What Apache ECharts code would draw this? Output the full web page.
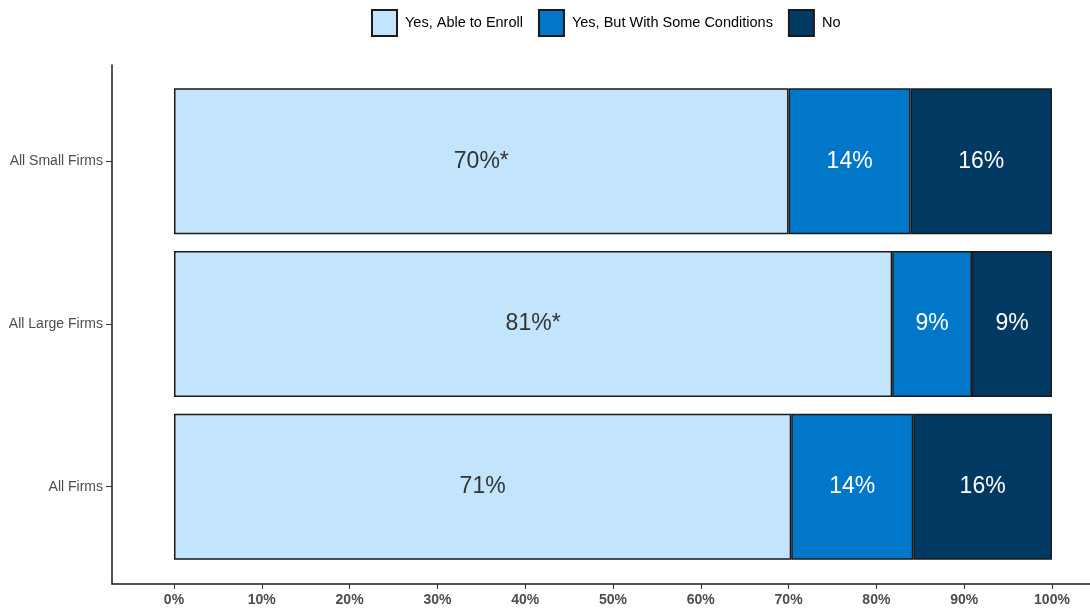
<!DOCTYPE html>
<html>
<head>
<meta charset="utf-8">
<script src="https://cdn.jsdelivr.net/npm/echarts@6/dist/echarts.min.js"></script>
<style>
  html, body { margin: 0; padding: 0; background: #fff; }
  #chart { width: 1090px; height: 608px; }
</style>
</head>
<body>
<div id="chart"></div>
<script>
// categories, bottom to top
const categories = ['All Firms', 'All Large Firms', 'All Small Firms'];
const seriesNames = ['Yes, Able to Enroll', 'Yes, But With Some Conditions', 'No'];

// segment shares (%)
const ableValues = [70.3, 81.8, 70.0];
const conditionValues = [13.9, 9.1, 13.9];
const noValues = [15.8, 9.1, 16.1];

// printed labels
const ableLabels = ['71%', '81%*', '70%*'];
const conditionLabels = ['14%', '9%', '14%'];
const noLabels = ['16%', '9%', '16%'];

const xTicks = [0, 10, 20, 30, 40, 50, 60, 70, 80, 90, 100];

const colors = ['#c2e4fc', '#0077c8', '#003a63'];
const xMin = -7.06;
const xMax = 104.33;

const chart = echarts.init(document.getElementById('chart'));

const makeSeries = (name, values, labels, color, labelColor) => ({
  name: name,
  type: 'bar',
  stack: 'total',
  xAxisIndex: 1,
  yAxisIndex: 1,
  barWidth: 146,
  data: values,
  itemStyle: {
    color: color,
    borderColor: '#1a1a1a',
    borderWidth: 1.5
  },
  label: {
    show: true,
    position: 'inside',
    formatter: p => labels[p.dataIndex],
    color: labelColor,
    fontSize: 23,
    fontFamily: 'Liberation Sans, Arial, sans-serif'
  }
});

const option = {
  animation: false,
  textStyle: { fontFamily: 'Liberation Sans, Arial, sans-serif' },
  legend: {
    top: 4,
    left: 366,
    itemWidth: 25,
    itemHeight: 26,
    itemGap: 15,
    icon: 'rect',
    textStyle: { fontSize: 14.5, color: '#000', padding: [0, 0, 0, 3] },
    data: seriesNames
  },
  grid: [
    // outer panel: carries the axis lines and x tick labels
    { left: 112, right: 0, top: 65, bottom: 24 },
    // bar area: category bands positioned like the reference
    { left: 112, right: 0, top: 80, bottom: 40 }
  ],
  xAxis: [
    {
      gridIndex: 0,
      type: 'value',
      min: xMin,
      max: xMax,
      splitLine: { show: false },
      axisLine: { show: true, onZero: false, lineStyle: { color: '#1a1a1a', width: 1.5 } },
      axisTick: { show: true, length: 5, lineStyle: { color: '#333' }, customValues: xTicks },
      axisLabel: {
        customValues: xTicks,
        formatter: v => v + '%',
        fontSize: 14,
        fontWeight: 'bold',
        color: '#4d4d4d',
        margin: 9
      }
    },
    {
      gridIndex: 1,
      type: 'value',
      min: xMin,
      max: xMax,
      show: false
    }
  ],
  yAxis: [
    {
      gridIndex: 0,
      type: 'value',
      min: 0,
      max: 1,
      splitLine: { show: false },
      axisLine: { show: true, onZero: false, lineStyle: { color: '#1a1a1a', width: 1.5 } },
      axisTick: { show: false },
      axisLabel: { show: false }
    },
    {
      gridIndex: 1,
      type: 'category',
      data: categories,
      axisLine: { show: false, onZero: false },
      axisTick: { show: true, alignWithLabel: true, length: 6, lineStyle: { color: '#333' } },
      axisLabel: { fontSize: 14, color: '#4d4d4d', margin: 9 }
    }
  ],
  series: [
    makeSeries(seriesNames[0], ableValues, ableLabels, colors[0], '#333333'),
    makeSeries(seriesNames[1], conditionValues, conditionLabels, colors[1], '#ffffff'),
    makeSeries(seriesNames[2], noValues, noLabels, colors[2], '#ffffff')
  ]
};

chart.setOption(option);
</script>
</body>
</html>
